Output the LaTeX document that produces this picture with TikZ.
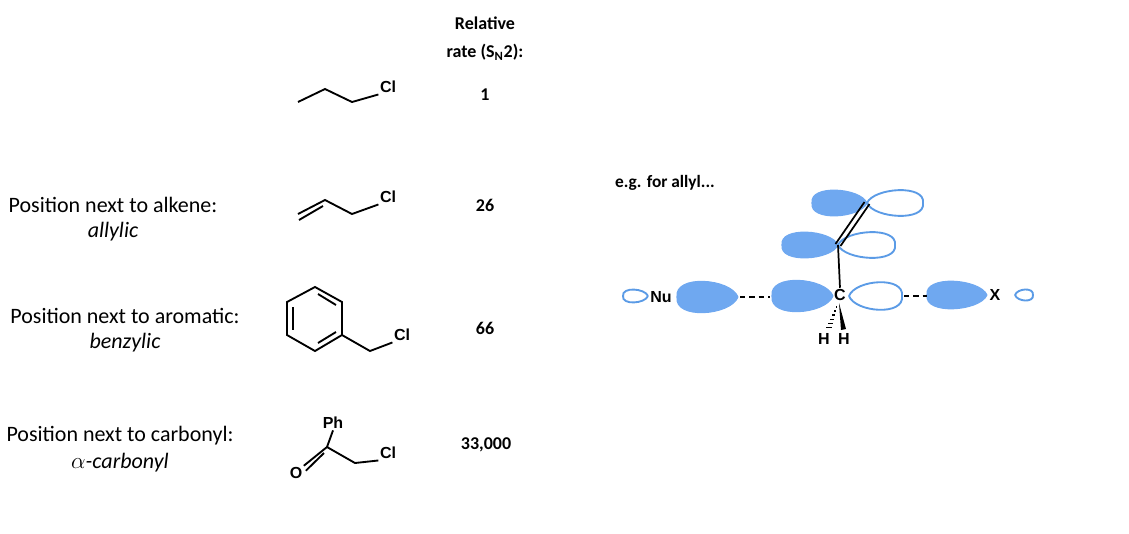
\documentclass[tikz,border=0pt]{standalone}
\usepackage{fontspec}
\setmainfont{Carlito}
\setsansfont{Liberation Sans}
\usetikzlibrary{calc}
\begin{document}
\begin{tikzpicture}[x=0.75pt,y=-0.75pt,
  bond/.style={line width=1.4pt,black},
  lab/.style={font=\fontsize{13.5}{14}\selectfont\bfseries,inner sep=0pt},
  atom/.style={font=\sffamily\bfseries\fontsize{12}{12}\selectfont,inner sep=1pt},
  desc/.style={font=\fontsize{16.5}{18}\selectfont,inner sep=0pt},
  filled/.style={fill=lobeF,draw=lobeF,line width=0.8pt},
  open/.style={fill=white,draw=lobeE,line width=1.4pt},
  dsh/.style={line width=1.4pt,dash pattern=on 4pt off 3pt}]
\definecolor{lobeF}{HTML}{6FA8F0}
\definecolor{lobeE}{HTML}{5B9BE6}
\newcommand\lobe[5]{\begin{scope}[shift={(#2,#3)}]\path[#1] (0,0) .. controls ({0.12*(#4)},{1.1*(#5)}) and ({1.05*(#4)},{1.35*(#5)}) .. ({#4},0) .. controls ({1.05*(#4)},{-1.35*(#5)}) and ({0.12*(#4)},{-1.1*(#5)}) .. (0,0);\end{scope}}
\useasboundingbox (0,0) rectangle (1129,533);
% header
\node[lab] (h1) at (485,23) {Relative};
\node[lab] (h2) at (485,52) {rate (S\textsubscript{N}2):};
\node[lab] (r1) at (485,95) {1};
\node[lab] (r2) at (485,205) {26};
\node[lab] (r3) at (485,328) {66};
\node[lab] (r4) at (486,445) {33,000};
% descriptions
\node[desc] (d1) at (113,205) {Position next to alkene:};
\node[desc] (d1b) at (113,232) {\itshape allylic};
\node[desc] (d2) at (125,316) {Position next to aromatic:};
\node[desc] (d2b) at (125,343) {\itshape benzylic};
\node[desc] (d3) at (120,436) {Position next to carbonyl:};
\node[desc] (d3b) at (120,463) {$\alpha$\itshape-carbonyl};
% propyl chloride
\coordinate (p1) at (298,102); \coordinate (p2) at (325,89); \coordinate (p3) at (352,102);
\node[atom] (pcl) at (388,87) {Cl};
\draw[bond] (p1)--(p2)--(p3)--(pcl.south west);
% allyl chloride
\coordinate (a1) at (298,214); \coordinate (a2) at (325,200); \coordinate (a3) at (352,214);
\node[atom] (acl) at (388,197) {Cl};
\draw[bond] (a1)--(a2)--(a3)--(acl.south west);
\draw[bond] ($(a1)+(1,6)$) -- ($(a2)+(-2,6)$);
% benzyl chloride
\coordinate (b1) at (315,287); \coordinate (b2) at (342,302); \coordinate (b3) at (342,335);
\coordinate (b4) at (315,351); \coordinate (b5) at (287,335); \coordinate (b6) at (287,302);
\coordinate (b7) at (370,351);
\node[atom] (bcl) at (402,335) {Cl};
\draw[bond] (b1)--(b2)--(b3)--(b4)--(b5)--(b6)--cycle;
\draw[bond] (b3)--(b7)--(bcl.south west);
\draw[bond] (293,307)--(293,330);
\draw[bond] (318,294)--(336,305);
\draw[bond] (336,332)--(318,343);
% alpha-chloroacetophenone
\node[atom] (ph) at (333,423) {Ph};
\coordinate (c1) at (327,447);
\coordinate (c2) at (355,463);
\node[atom] (o) at (296,473) {O};
\node[atom] (ccl) at (388,453) {Cl};
\draw[bond] (ph.south)--(c1)--(c2)--(ccl.south west);
\draw[bond] (c1)--(o.north east);
\draw[bond] ($(c1)+(-3,6)$)--($(o.north east)+(2,5)$);
% orbital picture
\node[font=\fontsize{13}{14}\selectfont\bfseries,inner sep=0pt] (eg) at (665,183) {e.g. for allyl...};
\lobe{filled}{867}{203}{-55}{14}
\lobe{open}{867}{203}{56}{14}
\lobe{filled}{838}{245}{-56}{14}
\lobe{open}{838}{245}{57}{14}
\node[atom] (C) at (840,295) {C};
\coordinate (ca) at (838,245); \coordinate (cb) at (867,203);
\draw[line width=1.3pt] (ca)--(C.north);
\draw[line width=1.3pt] ($(ca)+(-2.5,-1)$)--($(cb)+(-2.5,-1)$);
\draw[line width=1.3pt] ($(ca)+(2.5,1)$)--($(cb)+(2.5,1)$);
\lobe{filled}{833}{296}{-61}{17}
\lobe{open}{849}{296}{53}{15}
\lobe{open}{648}{296}{-25}{7}
\node[atom] (nu) at (661,297) {Nu};
\lobe{filled}{738}{297}{-61}{17}
\lobe{filled}{987}{295}{-60}{15}
\node[atom] (x) at (995,295) {X};
\lobe{open}{1015}{295}{18}{6}
\draw[dsh] (740,297)--(770,297);
\draw[dsh] (904,296)--(927,296);
\node[atom] (h1a) at (824,339) {H};
\node[atom] (h2a) at (844,339) {H};
\fill (839,303) -- (841,330) -- (846,329) -- cycle;
\foreach \t in {0.15,0.3,...,1.0}{
  \draw[line width=1pt] ($(838,303)!\t!(828,330)+(-{3*\t},0)$) -- ($(838,303)!\t!(828,330)+({3*\t},0)$);}
\end{tikzpicture}
\end{document}
